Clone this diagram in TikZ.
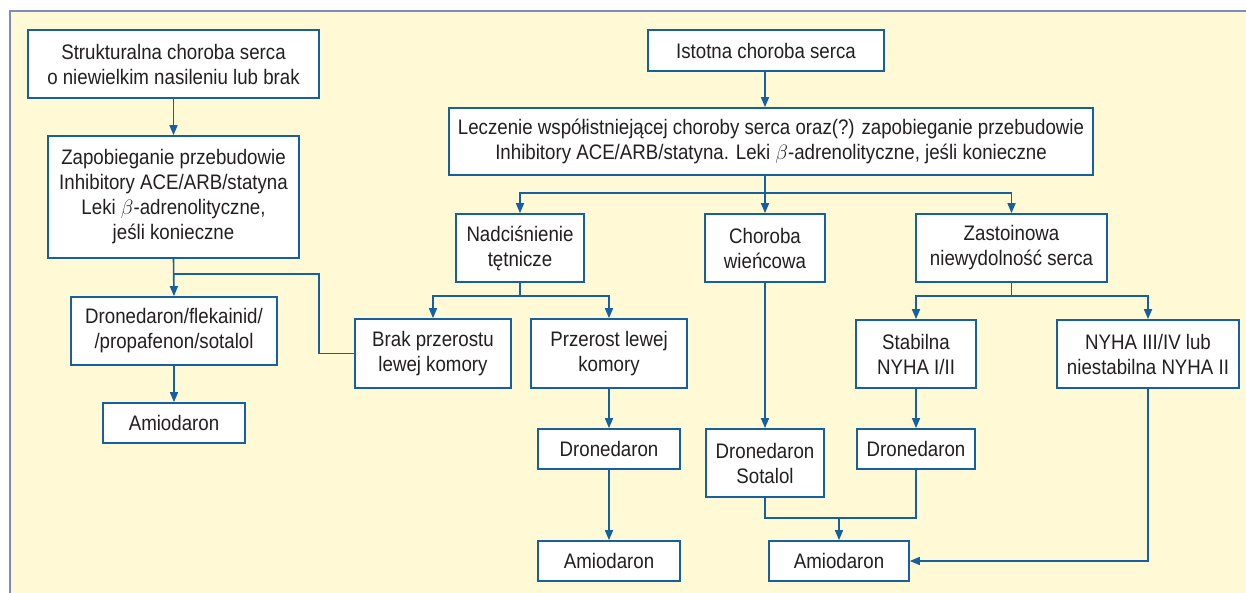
\documentclass[tikz,border=0pt]{standalone}
\usepackage{fontspec}
\setmainfont{Liberation Sans}[FakeStretch=0.89]
\usetikzlibrary{arrows.meta}
\definecolor{bgyellow}{RGB}{255,249,214}
\definecolor{framec}{RGB}{125,140,190}
\definecolor{lineblue}{RGB}{22,96,160}
\definecolor{txt}{RGB}{35,31,32}
\tikzset{
  box/.style={draw=lineblue, line width=1.7pt, fill=white, align=center, inner sep=0pt,
    text=txt, font=\fontsize{21}{25}\selectfont},
  ln/.style={draw=lineblue, line width=1.6pt},
  arr/.style={ln, -{Triangle[length=10pt,width=8pt]}},
}
\begin{document}
\begin{tikzpicture}[x=1pt,y=-1pt]
\useasboundingbox (0,0) rectangle (1246,593);
\fill[bgyellow] (10,11) rectangle (1246,593);
\draw[framec, line width=2.2pt] (10,593) -- (10,11) -- (1246,11);

% left column
\node[box, minimum width=291, minimum height=68] (A) at (173.5,64) {Strukturalna choroba serca\\o niewielkim nasileniu lub brak};
\node[box, minimum width=251, minimum height=122] (B) at (173.5,197) {Zapobieganie przebudowie\\Inhibitory ACE/ARB/statyna\\Leki $\beta$-adrenolityczne,\\jeśli konieczne};
\node[box, minimum width=206, minimum height=68] (C) at (174,331) {Dronedaron/flekainid/\\/propafenon/sotalol};
\node[box, minimum width=142, minimum height=40] (D) at (174,423) {Amiodaron};

% right part
\node[box, minimum width=236, minimum height=41] (E) at (766,50.5) {Istotna choroba serca};
\node[box, minimum width=644, minimum height=67] (F) at (771,141.5) {Leczenie współistniejącej choroby serca oraz(?) zapobieganie przebudowie\\Inhibitory ACE/ARB/statyna. Leki $\beta$-adrenolityczne, jeśli konieczne};
\node[box, minimum width=128, minimum height=68] (G) at (520,248) {Nadciśnienie\\tętnicze};
\node[box, minimum width=120, minimum height=68] (H) at (765,248) {Choroba\\wieńcowa};
\node[box, minimum width=191, minimum height=68] (I) at (1011.5,248) {Zastoinowa\\niewydolność serca};
\node[box, minimum width=156, minimum height=69] (J) at (433,353.5) {Brak przerostu\\lewej komory};
\node[box, minimum width=156, minimum height=69] (K) at (609,353.5) {Przerost lewej\\komory};
\node[box, minimum width=142, minimum height=40] (L) at (609,449) {Dronedaron};
\node[box, minimum width=142, minimum height=40] (M) at (609,561) {Amiodaron};
\node[box, minimum width=118, minimum height=68] (N) at (765,463) {Dronedaron\\Sotalol};
\node[box, minimum width=120, minimum height=68] (O) at (916,354) {Stabilna\\NYHA I/II};
\node[box, minimum width=182, minimum height=68] (P) at (1148,354) {NYHA III/IV lub\\niestabilna NYHA II};
\node[box, minimum width=118, minimum height=40] (Q) at (916,449) {Dronedaron};
\node[box, minimum width=140, minimum height=40] (R) at (839,561) {Amiodaron};

% connectors left
\draw[arr] (A.south) -- (B.north);
\draw[arr] (B.south) -- (C.north);
\draw[ln] (B.south) -- ++(0,15) -- ++(145.5,0) |- (J.west);
\draw[arr] (C.south) -- (D.north);

% connectors right
\draw[arr] (E.south -| H.north) -- (H.north |- F.north);
\draw[ln] (H.north |- F.south) -- (H.north |- 0,193);
\draw[arr] (H.north |- 0,193) -| (G.north);
\draw[arr] (H.north |- 0,193) -- (H.north);
\draw[arr] (H.north |- 0,193) -| (I.north);

\draw[ln] (G.south) -- (G.south |- 0,296);
\draw[arr] (G.south |- 0,296) -| (J.north);
\draw[arr] (G.south |- 0,296) -| (K.north);
\draw[arr] (K.south) -- (L.north);
\draw[arr] (L.south) -- (M.north);

\draw[arr] (H.south) -- (N.north);

\draw[ln] (I.south) -- (I.south |- 0,296);
\draw[arr] (I.south |- 0,296) -| (O.north);
\draw[arr] (I.south |- 0,296) -| (P.north);
\draw[arr] (O.south) -- (Q.north);

\draw[ln] (N.south) -- (N.south |- 0,518) -- (Q.south |- 0,518) -- (Q.south);
\draw[arr] (R.north |- 0,518) -- (R.north);
\draw[arr] (P.south) |- (R.east);
\end{tikzpicture}
\end{document}
